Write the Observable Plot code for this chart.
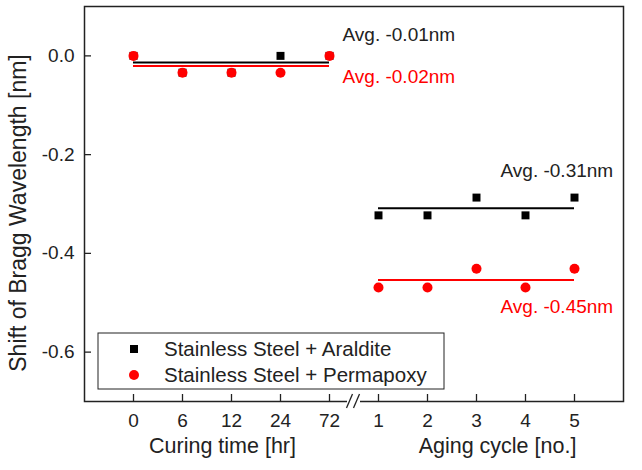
<!DOCTYPE html>
<html><head><meta charset="utf-8">
<script src="https://cdn.jsdelivr.net/npm/d3@7"></script>
<script src="https://cdn.jsdelivr.net/npm/@observablehq/plot@0.6"></script>
<style>
html,body{margin:0;padding:0;background:#fff;}
#chart{width:642px;height:470px;}
</style></head><body><div id="chart"></div>
<script>
// ---- data ----
const curingLabels = ["0", "6", "12", "24", "72"];
const agingLabels = ["1", "2", "3", "4", "5"];
const aralditeCuring = [0, -0.034, -0.034, 0, 0];
const permapoxyCuring = [0, -0.034, -0.034, -0.034, 0];
const aralditeAging = [-0.323, -0.323, -0.287, -0.323, -0.287];
const permapoxyAging = [-0.469, -0.469, -0.431, -0.469, -0.431];
const yTicks = [0, -0.2, -0.4, -0.6];
const seriesNames = ["Stainless Steel + Araldite", "Stainless Steel + Permapoxy"];
const avgTexts = ["Avg. -0.01nm", "Avg. -0.02nm", "Avg. -0.31nm", "Avg. -0.45nm"];
const groupTitles = ["Curing time [hr]", "Aging cycle [no.]"];
const yTitle = "Shift of Bragg Wavelength [nm]";

const BLACK = "#000000", RED = "#ff0000", TEXT = "#222222";
const FONT = "'Liberation Sans', Arial, sans-serif";

// ---- build tables ----
const xDomain = [...curingLabels, ...agingLabels];
const araldite = [
  ...curingLabels.map((c, i) => ({x: c, y: aralditeCuring[i]})),
  ...agingLabels.map((c, i) => ({x: c, y: aralditeAging[i]}))
];
const permapoxy = [
  ...curingLabels.map((c, i) => ({x: c, y: permapoxyCuring[i]})),
  ...agingLabels.map((c, i) => ({x: c, y: permapoxyAging[i]}))
];
const avgA = [
  {x1: curingLabels[0], x2: curingLabels[4], y: d3.mean(aralditeCuring)},
  {x1: agingLabels[0], x2: agingLabels[4], y: d3.mean(aralditeAging)}
];
const avgP = [
  {x1: curingLabels[0], x2: curingLabels[4], y: d3.mean(permapoxyCuring)},
  {x1: agingLabels[0], x2: agingLabels[4], y: d3.mean(permapoxyAging)}
];

function legendMark(index, scales, values, dim) {
  const g = d3.create("svg:g");
  const left = dim.marginLeft + 14, bottom = dim.height - dim.marginBottom - 12;
  const w = 346, h = 56;
  g.append("rect").attr("x", left).attr("y", bottom - h).attr("width", w).attr("height", h)
    .attr("fill", "white").attr("stroke", "#222").attr("stroke-width", 1);
  const rows = [
    {name: seriesNames[0], color: BLACK, sym: d3.symbolSquare, r: 4.5},
    {name: seriesNames[1], color: RED, sym: d3.symbolCircle, r: 5}
  ];
  rows.forEach((row, i) => {
    const cy = bottom - h + 16 + i * 26;
    g.append("path")
      .attr("d", d3.symbol(row.sym, Math.PI * row.r * row.r)())
      .attr("transform", `translate(${left + 36},${cy})`)
      .attr("fill", row.color);
    g.append("text").attr("x", left + 66).attr("y", cy).attr("dy", "0.35em")
      .attr("text-anchor", "start")
      .attr("fill", TEXT).attr("font-size", 20.5).attr("font-family", FONT)
      .text(row.name);
  });
  return g.node();
}

function breakMark(index, scales, values, dim) {
  const g = d3.create("svg:g");
  const bx = (scales.x(curingLabels[4]) + scales.x(agingLabels[0])) / 2;
  const by = dim.height - dim.marginBottom;
  g.append("rect").attr("x", bx - 6.5).attr("y", by - 3).attr("width", 13).attr("height", 6).attr("fill", "white");
  [[-7, -1], [0, 6]].forEach(([a, b]) => {
    g.append("line").attr("x1", bx + a).attr("y1", by + 7).attr("x2", bx + b).attr("y2", by - 7)
      .attr("stroke", "#222").attr("stroke-width", 1.3);
  });
  return g.node();
}

const chart = Plot.plot({
  width: 642,
  height: 470,
  marginLeft: 84,
  marginRight: 19,
  marginTop: 6,
  marginBottom: 69,
  style: {fontFamily: FONT, fontSize: "19px", color: TEXT, background: "white"},
  x: {type: "point", domain: xDomain, padding: 1, label: null},
  y: {domain: [-0.7, 0.1], label: null},
  marks: [
    Plot.ruleY(avgA, {x1: "x1", x2: "x2", y: "y", stroke: BLACK, strokeWidth: 2}),
    Plot.ruleY(avgP, {x1: "x1", x2: "x2", y: "y", stroke: RED, strokeWidth: 2}),
    Plot.dot(araldite, {x: "x", y: "y", symbol: "square", r: 4.5, fill: BLACK}),
    Plot.dot(permapoxy, {x: "x", y: "y", symbol: "circle", r: 5, fill: RED}),
    Plot.text([avgTexts[0]], {x: [avgA[0].x2], y: [avgA[0].y], text: d => d, textAnchor: "start", dx: 13, dy: -28, fill: TEXT, fontSize: 19}),
    Plot.text([avgTexts[1]], {x: [avgP[0].x2], y: [avgP[0].y], text: d => d, textAnchor: "start", dx: 13, dy: 11, fill: RED, fontSize: 19}),
    Plot.text([avgTexts[2]], {x: [avgA[1].x2], y: [avgA[1].y], text: d => d, textAnchor: "start", dx: -74, dy: -37, fill: TEXT, fontSize: 19}),
    Plot.text([avgTexts[3]], {x: [avgP[1].x2], y: [avgP[1].y], text: d => d, textAnchor: "start", dx: -74, dy: 27, fill: RED, fontSize: 19}),
    Plot.frame({stroke: "#222", strokeWidth: 1.5}),
    Plot.axisY({ticks: yTicks, tickSize: 7, dx: 7, fill: "none", stroke: "#222", strokeWidth: 1.3}),
    Plot.axisY({ticks: yTicks, tickSize: 0, tickPadding: 10, tickFormat: d => d.toFixed(1), fill: TEXT, fontSize: 19}),
    Plot.axisX({tickSize: 7, dy: -7, fill: "none", stroke: "#222", strokeWidth: 1.3}),
    Plot.axisX({tickSize: 0, tickPadding: 12, fill: TEXT, fontSize: 19}),
    Plot.text([groupTitles[0]], {x: [curingLabels[2]], frameAnchor: "bottom", text: d => d, textAnchor: "middle", dx: -9, dy: 51, fill: TEXT, fontSize: 21.5}),
    Plot.text([groupTitles[1]], {x: [agingLabels[2]], frameAnchor: "bottom", text: d => d, textAnchor: "middle", dx: 21, dy: 51, fill: TEXT, fontSize: 21.5}),
    Plot.text([yTitle], {frameAnchor: "left", text: d => d, textAnchor: "middle", rotate: -90, dx: -66, dy: 9, fill: TEXT, fontSize: 23}),
    breakMark,
    legendMark
  ]
});
document.getElementById("chart").appendChild(chart);
</script>
</body></html>
